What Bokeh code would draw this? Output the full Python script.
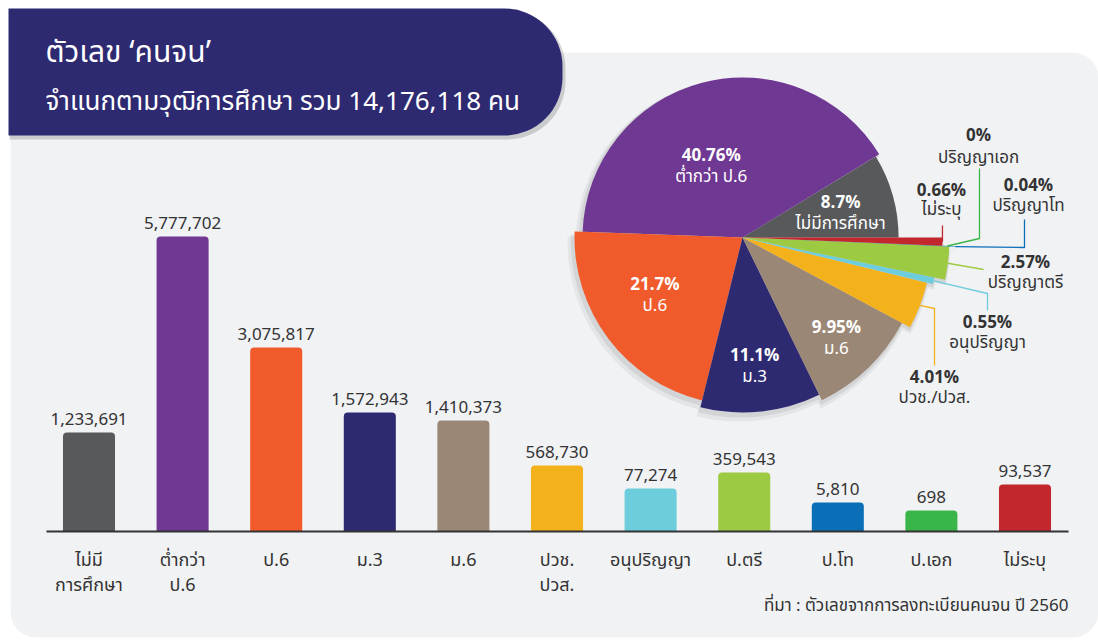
import numpy as np
from bokeh.plotting import figure
from bokeh.models import Range1d, ColumnDataSource
from bokeh.core.properties import value
from bokeh.embed import file_html
from bokeh.resources import INLINE

# ---------------- data ----------------
title_text = "ตัวเลข ‘คนจน’"
subtitle_text = "จำแนกตามวุฒิการศึกษา รวม 14,176,118 คน"
source_text = "ที่มา : ตัวเลขจากการลงทะเบียนคนจน ปี 2560"

bar_categories = ["ไม่มี\nการศึกษา", "ต่ำกว่า\nป.6", "ป.6", "ม.3", "ม.6", "ปวช.\nปวส.",
                  "อนุปริญญา", "ป.ตรี", "ป.โท", "ป.เอก", "ไม่ระบุ"]
bar_values = [1233691, 5777702, 3075817, 1572943, 1410373, 568730, 77274, 359543, 5810, 698, 93537]
# drawn bar heights (the original is not drawn to scale)
bar_heights = [99, 295, 184, 119, 111, 66, 43, 59, 29, 21, 47]

pie_labels = ["ไม่มีการศึกษา", "ต่ำกว่า ป.6", "ป.6", "ม.3", "ม.6", "ปวช./ปวส.",
              "อนุปริญญา", "ปริญญาตรี", "ปริญญาโท", "ปริญญาเอก", "ไม่ระบุ"]
pie_pcts = [8.7, 40.76, 21.7, 11.1, 9.95, 4.01, 0.55, 2.57, 0.04, 0, 0.66]

# ---------------- styles / layout ----------------
GRAY, PURPLE, ORANGE, NAVY, BEIGE = "#58595b", "#6f3893", "#f15a2b", "#2e2a72", "#9b8775"
YELLOW, CYAN, LGREEN, BLUE, GREEN, RED = "#f3b11c", "#6dcddc", "#9dca43", "#0b6fb8", "#3ab54a", "#c1272d"
bar_colors = [GRAY, PURPLE, ORANGE, NAVY, BEIGE, YELLOW, CYAN, LGREEN, BLUE, GREEN, RED]
pie_colors = [GRAY, PURPLE, ORANGE, NAVY, BEIGE, YELLOW, CYAN, LGREEN, BLUE, GREEN, RED]
pie_radii = [156, 160, 168, 175, 181, 190, 196, 207, 213, 205, 200]
inner_label_r = [101, 78, 105, 130, 138]
inner_label_nudge = [-2, 9, -3.6, -0.7, -1]
# outer labels: (label x, pct y, name y, leader elbows) in page pixels
outer_layout = {
    5: (934, 377, 397, [(934, 308), (934, 365)]),
    6: (987, 322, 342, [(987, 293), (987, 310)]),
    7: (1025, 262, 282, [(983, 269)]),
    8: (1028, 185, 205, [(1024, 247), (1024, 219)]),
    9: (978, 135, 157, [(979, 238), (979, 168)]),
    10: (941, 190, 209, [(None, 225)]),
}
PIE_CX, PIE_CY = 742, 237
BAR_X0, BAR_STEP = 88.5, 93.6
BASE_Y = 531
W, H = 1098, 644
FONT = "Noto Sans Thai, Noto Sans, sans-serif"
TXT = "#333333"

# ---------------- figure ----------------
xr = Range1d((0 - BAR_X0) / BAR_STEP, (W - BAR_X0) / BAR_STEP)
yr = Range1d(BASE_Y - H, BASE_Y)
p = figure(width=W, height=H, x_range=xr, y_range=yr, output_backend="svg",
           toolbar_location=None, min_border=0, x_axis_location=None, y_axis_location=None,
           background_fill_color="white", border_fill_color="white", outline_line_color=None)
p.grid.visible = False
p.extra_x_ranges = {"px": Range1d(0, W), "pie": Range1d(-PIE_CX, W - PIE_CX)}
p.extra_y_ranges = {"px": Range1d(H, 0), "pie": Range1d(PIE_CY - H, PIE_CY)}
PX = dict(x_range_name="px", y_range_name="px")
PIE = dict(x_range_name="pie", y_range_name="pie")

# background panel
p.quad(left=[10], right=[W], top=[52], bottom=[637], border_radius=26,
       fill_color="#f1f2f4", line_color=None, **PX)

# title banner
p.quad(left=[9], right=[565], top=[10], bottom=[139], border_radius=(0, 58, 58, 0),
       fill_color="black", fill_alpha=0.16, line_color=None, **PX)
p.quad(left=[8], right=[562], top=[8], bottom=[135], border_radius=(0, 58, 58, 0),
       fill_color=NAVY, line_color=None, **PX)
p.text(x=[45], y=[52], text=[title_text], text_font=value(FONT), text_font_size="30px",
       text_color="white", text_baseline="alphabetic", text_align="left", **PX)
p.text(x=[45], y=[101], text=[subtitle_text], text_font=value(FONT), text_font_size="26px",
       text_color="white", text_baseline="alphabetic", text_align="left", **PX)

# ---------------- bars ----------------
n = len(bar_values)
idx = np.arange(n)
bsrc = ColumnDataSource(dict(
    x=idx, top=bar_heights, color=bar_colors,
    ly=[h + 14 for h in bar_heights],
    vtext=[f"{v:,}" for v in bar_values],
    cat=bar_categories,
))
p.vbar(x="x", top="top", bottom=0, width=0.556, fill_color="color", line_color=None,
       border_radius=(4, 4, 0, 0), source=bsrc)
p.segment(x0=[-0.454], y0=[0], x1=[n - 1 + 0.465], y1=[0], line_color=TXT, line_width=2)
p.text(x="x", y="ly", text="vtext", source=bsrc, text_font=value(FONT), text_font_size="17px",
       text_color=TXT, text_align="center", text_baseline="alphabetic")
p.text(x="x", y=-15, text="cat", source=bsrc, text_font=value(FONT), text_font_size="18px",
       text_color=TXT, text_align="center", text_baseline="top", text_line_height=0.95)
p.text(x=[1068], y=[605], text=[source_text], text_font=value(FONT), text_font_size="17px",
       text_color=TXT, text_align="right", text_baseline="middle", **PX)

# ---------------- pie ----------------
pcts = np.array(pie_pcts, dtype=float)
cum = np.concatenate([[0.0], np.cumsum(pcts)]) / pcts.sum() * 2 * np.pi
start, end = cum[:-1], cum[1:]
mid = (start + end) / 2
keep = pcts > 0  # a zero-width wedge would be drawn as a full circle
psrc = ColumnDataSource(dict(start=start[keep], end=end[keep],
                             r=np.array(pie_radii)[keep], color=np.array(pie_colors)[keep]))
# soft shadow
for off, a, extra in [(5, 0.05, 4), (3, 0.07, 2)]:
    p.wedge(x=-off * 0.6, y=-off, radius=np.array(pie_radii)[keep] + extra, start_angle=start[keep],
            end_angle=end[keep], fill_color="black", fill_alpha=a, line_color=None, **PIE)
p.wedge(x=0, y=0, radius="r", start_angle="start", end_angle="end", fill_color="color",
        line_color=None, source=psrc, **PIE)

pct_text = [f"{v:g}%" for v in pie_pcts]
# inner labels
ix, iy_p, iy_n, it_p, it_n = [], [], [], [], []
for i in range(len(inner_label_r)):
    a = mid[i] + np.deg2rad(inner_label_nudge[i])
    cx, cy = inner_label_r[i] * np.cos(a), inner_label_r[i] * np.sin(a)
    ix.append(cx); iy_p.append(cy + 10.5); iy_n.append(cy - 10.5)
    it_p.append(pct_text[i]); it_n.append(pie_labels[i])
p.text(x=ix, y=iy_p, text=it_p, text_font=value(FONT), text_font_size="17px", text_font_style="bold",
       text_color="white", text_align="center", text_baseline="middle", **PIE)
p.text(x=ix, y=iy_n, text=it_n, text_font=value(FONT), text_font_size="17px",
       text_color="white", text_align="center", text_baseline="middle", **PIE)

# outer labels with leader lines
lxs, lys, lcol = [], [], []
ox, oyp, oyn, otp, otn = [], [], [], [], []
for i, (lx, py, ny, elbows) in outer_layout.items():
    tx = PIE_CX + pie_radii[i] * np.cos(mid[i])
    ty = PIE_CY - pie_radii[i] * np.sin(mid[i])
    xs, ys = [tx], [ty]
    for ex, ey in elbows:
        xs.append(tx if ex is None else ex); ys.append(ey)
    lxs.append(xs); lys.append(ys); lcol.append(pie_colors[i])
    ox.append(lx); oyp.append(py); oyn.append(ny); otp.append(pct_text[i]); otn.append(pie_labels[i])
p.multi_line(xs=lxs, ys=lys, line_color=lcol, line_width=1.3, **PX)
p.text(x=ox, y=oyp, text=otp, text_font=value(FONT), text_font_size="17px", text_font_style="bold",
       text_color=TXT, text_align="center", text_baseline="middle", **PX)
p.text(x=ox, y=oyn, text=otn, text_font=value(FONT), text_font_size="17px",
       text_color=TXT, text_align="center", text_baseline="middle", **PX)

open("out.html", "w").write(file_html(p, INLINE))
